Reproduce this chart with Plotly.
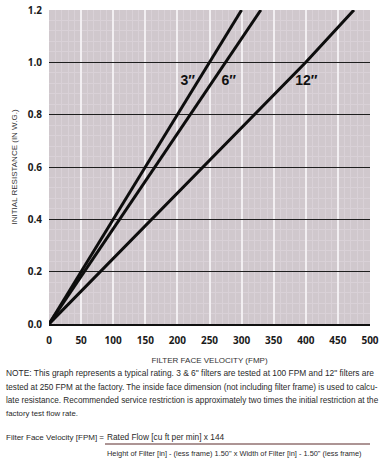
import plotly.graph_objects as go

# Data
velocity_3in = [0, 100, 250, 300]
resist_3in = [0.0, 0.4, 1.0, 1.2]
velocity_6in = [0, 110, 275, 330]
resist_6in = [0.0, 0.4, 1.0, 1.2]
velocity_12in = [0, 160, 400, 475]
resist_12in = [0.0, 0.4, 1.0, 1.2]

series_names = ["3″", "6″", "12″"]
label_x = [216, 280, 401]
label_y = [0.925, 0.925, 0.925]

x_ticks = [0, 50, 100, 150, 200, 250, 300, 350, 400, 450, 500]
y_ticks = [0.0, 0.2, 0.4, 0.6, 0.8, 1.0, 1.2]

note_lines = [
    "NOTE: This graph represents a typical rating. 3 & 6\" filters are tested at 100 FPM and 12\" filters are",
    "tested at 250 FPM at the factory. The inside face dimension (not including filter frame) is used to calcu-",
    "late resistance. Recommended service restriction is approximately two times the initial restriction at the",
    "factory test flow rate.",
]
formula_left = "Filter Face Velocity [FPM] ="
formula_num = "Rated Flow [cu ft per min] x 144"
formula_den = "Height of Filter [in] - (less frame) 1.50\" x Width of Filter [in] - 1.50\" (less frame)"

W, H = 383, 460
L, R, T, B = 49, 13, 10, 136
pw, ph = W - L - R, H - T - B

def px(xp):
    return (xp - L) / pw

def py(yp):
    return (H - B - yp) / ph

fig = go.Figure()
for xs, ys, nm in [(velocity_3in, resist_3in, series_names[0]),
                   (velocity_6in, resist_6in, series_names[1]),
                   (velocity_12in, resist_12in, series_names[2])]:
    fig.add_trace(go.Scatter(x=xs, y=ys, mode="lines", name=nm,
                             line=dict(color="#0d0d0d", width=3), showlegend=False))

fig.add_trace(go.Scatter(x=label_x, y=label_y, mode="text", text=series_names,
                         textfont=dict(family="Liberation Sans, Arial", size=14,
                                       color="#111111", weight="bold"),
                         showlegend=False, hoverinfo="skip"))

tick_font = dict(family="Open Sans, DejaVu Sans, Arial", size=10, color="#1a1a1a", weight="bold")
title_font = dict(family="Liberation Sans, Arial", size=8, color="#333333")

fig.update_xaxes(range=[0, 500], tickvals=x_ticks, ticktext=[str(v) for v in x_ticks],
                 tickfont=tick_font, showgrid=True, gridcolor="#f2eff2", gridwidth=1.5,
                 minor=dict(dtick=10, showgrid=True, gridcolor="#d9d1d7", gridwidth=1),
                 showline=True, linecolor="#111111", linewidth=2, zeroline=False,
                 ticks="", ticklabelstandoff=6, fixedrange=True,
                 title=dict(text="FILTER FACE VELOCITY (FMP)", font=title_font, standoff=11))
fig.update_yaxes(range=[0, 1.2], tickvals=y_ticks, tickformat=".1f",
                 tickfont=tick_font, showgrid=True, gridcolor="#1e1e1e", gridwidth=1.3,
                 minor=dict(dtick=0.04, showgrid=True, gridcolor="#d9d1d7", gridwidth=1),
                 zeroline=False, showline=False, ticks="", ticklabelstandoff=6, fixedrange=True,
                 title=dict(text="INITIAL RESISTANCE (IN W.G.)", font=title_font, standoff=8))

annotations = []
note_family = "Liberation Sans, Arial"
note_sizes = [8.4, 8.2, 8.2, 7.8]
note_y = [373, 387, 400, 413]
for txt, yy, sz in zip(note_lines, note_y, note_sizes):
    annotations.append(dict(text=txt, x=px(4), y=py(yy), xref="paper", yref="paper",
                            xanchor="left", yanchor="middle", showarrow=False,
                            font=dict(family=note_family, size=sz, color="#2a2a2a")))
annotations.append(dict(text=formula_left, x=px(4), y=py(437), xref="paper", yref="paper",
                        xanchor="left", yanchor="middle", showarrow=False,
                        font=dict(family=note_family, size=8.0, color="#2a2a2a")))
annotations.append(dict(text=formula_num, x=px(105), y=py(437), xref="paper", yref="paper",
                        xanchor="left", yanchor="middle", showarrow=False,
                        font=dict(family=note_family, size=8.3, color="#2a2a2a")))
annotations.append(dict(text=formula_den, x=px(105), y=py(453), xref="paper", yref="paper",
                        xanchor="left", yanchor="middle", showarrow=False,
                        font=dict(family=note_family, size=7.4, color="#2a2a2a")))

fig.update_layout(
    width=W, height=H, margin=dict(l=L, r=R, t=T, b=B, autoexpand=False),
    paper_bgcolor="white", plot_bgcolor="#d0c8cd",
    annotations=annotations,
    shapes=[dict(type="line", xref="paper", yref="paper", x0=px(105), x1=px(370),
                 y0=py(444), y1=py(444), line=dict(color="#5a2a2a", width=1))],
)

fig.write_html("out.html", config={"displayModeBar": False},
               post_script="document.body.style.margin='0';")
